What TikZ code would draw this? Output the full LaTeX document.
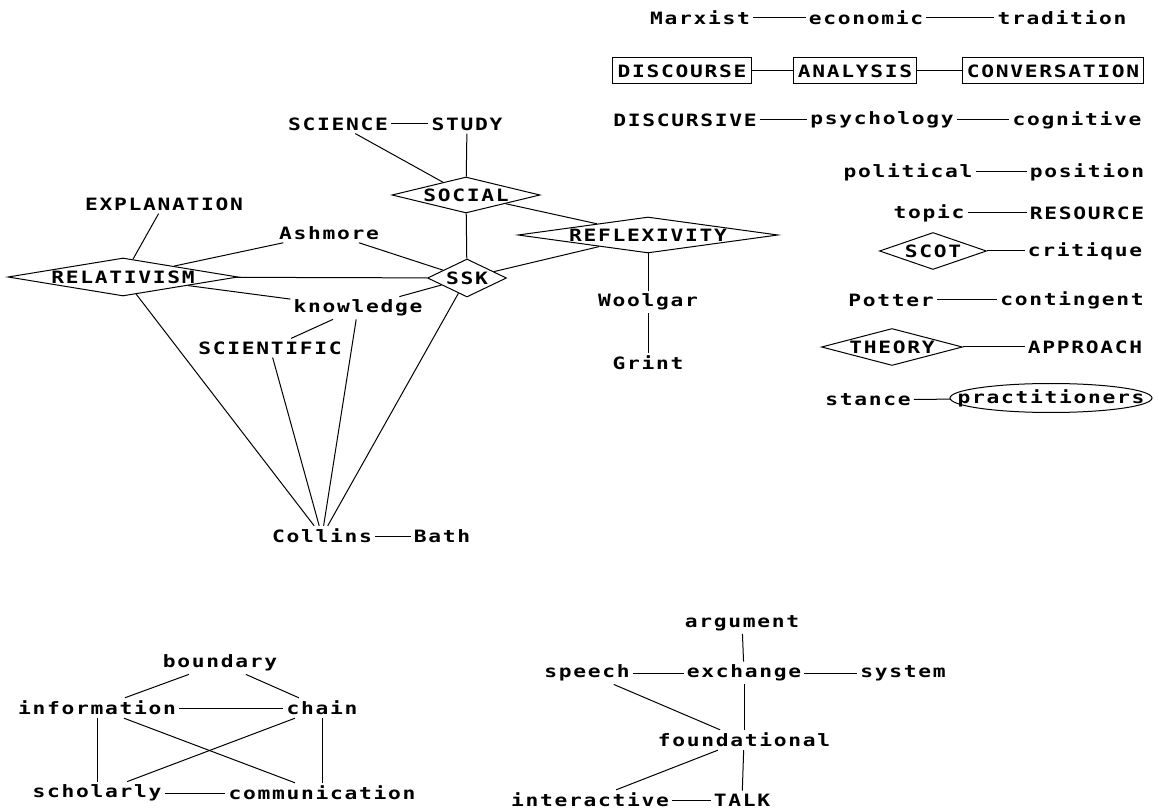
\documentclass[tikz,border=0pt]{standalone}
\usepackage{fontspec}
\newfontfamily\pixfont[FakeStretch=1.25,LetterSpace=10]{DejaVu Sans Mono}
\usetikzlibrary{shapes.geometric}

\tikzset{
  word/.style={inner sep=2pt, font=\pixfont\bfseries\fontsize{12.75pt}{15pt}\selectfont},
  rel/.style={word, diamond, draw, inner sep=0pt},
  ent/.style={word, draw, inner sep=3.5pt, minimum height=19.5pt},
}

\begin{document}
\begin{tikzpicture}[x=0.75pt,y=0.75pt,yscale=-1,xscale=1,line width=0.75pt]
\useasboundingbox (0,0) rectangle (1159,812);

% Text Nodes, right column
\node[word] (marxist) at (700,18) {Marxist};
\node[word] (economic) at (866,18) {economic};
\node[word] (tradition) at (1062,18) {tradition};
\node[ent] (discourse) at (682,71) {DISCOURSE};
\node[ent] (analysis) at (855,71) {ANALYSIS};
\node[ent] (conversation) at (1053,71) {CONVERSATION};
\node[word] (discursive) at (685,120) {DISCURSIVE};
\node[word] (psychology) at (882,120) {psychology};
\node[word] (cognitive) at (1077,120) {cognitive};
\node[word] (political) at (908,172) {political};
\node[word] (position) at (1087,172) {position};
\node[word] (topic) at (929,213) {topic};
\node[word] (resource) at (1087,213) {RESOURCE};
\node[rel, aspect=2.9, minimum width=80.25pt, minimum height=27.75pt] (scot) at (933,251) {SCOT};
\node[word] (critique) at (1085,251) {critique};
\node[word] (potter) at (891,300) {Potter};
\node[word] (contingent) at (1072,300) {contingent};
\node[rel, aspect=3.8, minimum width=105.75pt, minimum height=27.75pt] (theory) at (892,347) {THEORY};
\node[word] (approach) at (1085,347) {APPROACH};
\node[word] (stance) at (868,400) {stance};
\node[ellipse, draw, inner sep=0pt, minimum width=151.5pt, minimum height=21.75pt,
  label={[word]center:practitioners}] (practitioners) at (1051,398) {};

% Straight Lines, right column
\draw (marxist) -- (economic);
\draw (economic) -- (tradition);
\draw (discourse) -- (analysis);
\draw (analysis) -- (conversation);
\draw (discursive) -- (psychology);
\draw (psychology) -- (cognitive);
\draw (political) -- (position);
\draw (topic) -- (resource);
\draw (scot) -- (critique);
\draw (potter) -- (contingent);
\draw (theory) -- (approach);
\draw (stance) -- (practitioners);

% Text Nodes, SSK cluster
\node[word] (science) at (338,124) {SCIENCE};
\node[word] (study) at (467,124) {STUDY};
\node[rel, aspect=4.1, minimum width=111pt, minimum height=27pt] (social) at (466,195) {SOCIAL};
\node[word] (explanation) at (164,204) {EXPLANATION};
\node[word] (ashmore) at (329,233) {Ashmore};
\node[rel, aspect=6, minimum width=172.5pt, minimum height=28.5pt] (relativism) at (123,277) {RELATIVISM};
\node[rel, aspect=2.1, minimum width=59.25pt, minimum height=28.5pt] (ssk) at (467,278) {SSK};
\node[rel, aspect=7.2, minimum width=195pt, minimum height=27pt] (reflexivity) at (648,235) {REFLEXIVITY};
\node[word] (knowledge) at (358,308) {knowledge};
\node[word] (scientific) at (270,348) {SCIENTIFIC};
\node[word] (woolgar) at (648,302) {Woolgar};
\node[word] (grint) at (648,363) {Grint};
\node[word] (collins) at (322,536) {Collins};
\node[word] (bath) at (442,536) {Bath};

% Straight Lines, SSK cluster
\draw (science) -- (study);
\draw (science) -- (social);
\draw (study) -- (social);
\draw (social) -- (ssk);
\draw (social) -- (reflexivity);
\draw (explanation) -- (relativism);
\draw (ashmore) -- (relativism);
\draw (ashmore) -- (ssk);
\draw (relativism) -- (ssk);
\draw (relativism) -- (knowledge);
\draw (knowledge) -- (ssk);
\draw (knowledge) -- (scientific);
\draw (ssk) -- (reflexivity);
\draw (reflexivity) -- (woolgar);
\draw (woolgar) -- (grint);
\draw (relativism) -- (collins);
\draw (scientific) -- (collins);
\draw (knowledge) -- (collins);
\draw (ssk) -- (collins);
\draw (collins) -- (bath);

% Text Nodes, lower left
\node[word] (boundary) at (220,663) {boundary};
\node[word] (information) at (97,708) {information};
\node[word] (chain) at (322,708) {chain};
\node[word] (scholarly) at (97,793) {scholarly};
\node[word] (communication) at (322,793) {communication};

% Straight Lines, lower left
\draw (boundary) -- (information);
\draw (boundary) -- (chain);
\draw (information) -- (chain);
\draw (information) -- (scholarly);
\draw (information) -- (communication);
\draw (chain) -- (scholarly);
\draw (chain) -- (communication);
\draw (scholarly) -- (communication);

% Text Nodes, lower right
\node[word] (argument) at (742,623) {argument};
\node[word] (speech) at (587,673) {speech};
\node[word] (exchange) at (744,673) {exchange};
\node[word] (system) at (903,673) {system};
\node[word] (foundational) at (744,740) {foundational};
\node[word] (interactive) at (590,800) {interactive};
\node[word] (talk) at (742,800) {TALK};

% Straight Lines, lower right
\draw (argument) -- (exchange);
\draw (speech) -- (exchange);
\draw (exchange) -- (system);
\draw (exchange) -- (foundational);
\draw (speech) -- (foundational);
\draw (foundational) -- (interactive);
\draw (foundational) -- (talk);
\draw (interactive) -- (talk);
\end{tikzpicture}
\end{document}
